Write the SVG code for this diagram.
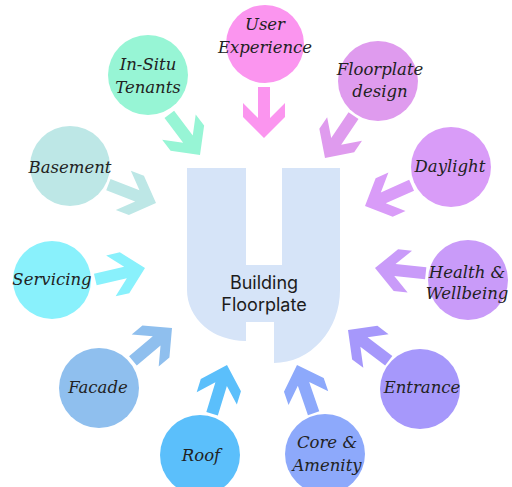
<svg xmlns="http://www.w3.org/2000/svg" xmlns:xlink="http://www.w3.org/1999/xlink" width="512" height="487" viewBox="0 0 512 487">
<style>
.lbl{font-family:"DejaVu Serif","Liberation Serif",serif;font-style:italic;font-size:16.5px;fill:#222;text-anchor:middle}
.ctr{font-family:Inter,"Liberation Sans",sans-serif;font-size:18px;fill:#1c1c1c;text-anchor:middle}
</style>
<defs>
<path id="arr" d="M0,0 L-21,21 L-35,21 L-20,6 L-51,6 L-51,-6 L-20,-6 L-35,-21 L-21,-21 Z"/>
</defs>
<rect width="512" height="487" fill="#fff"/>
<g id="building-floorplate">
<path d="M187,168 L246,168 L246,265 L282,265 L282,168 L340,168 L340,290 A66,73 0 0 1 274,363 L274,322 L246,322 L246,341 A58,51 0 0 1 187,290 Z" fill="#d6e4f8"/>
<text class="ctr" x="264" y="289">Building</text>
<text class="ctr" x="264" y="311">Floorplate</text>
</g>
<g id="connectors">
<use xlink:href="#arr" fill="#fb95ef" transform="translate(264,138) rotate(90)"/>
<use xlink:href="#arr" fill="#97f5d5" transform="translate(200,155) rotate(53)"/>
<use xlink:href="#arr" fill="#df9bee" transform="translate(325,158) rotate(124)"/>
<use xlink:href="#arr" fill="#d99cf8" transform="translate(365,206) rotate(156)"/>
<use xlink:href="#arr" fill="#bde7e6" transform="translate(156,203) rotate(21)"/>
<use xlink:href="#arr" fill="#89f1fc" transform="translate(145,268) rotate(-13)"/>
<use xlink:href="#arr" fill="#8fbfee" transform="translate(172,328) rotate(-40)"/>
<use xlink:href="#arr" fill="#5bbffb" transform="translate(227,365) rotate(-73)"/>
<use xlink:href="#arr" fill="#c99bf9" transform="translate(375,268) rotate(186)"/>
<use xlink:href="#arr" fill="#a698fb" transform="translate(348,330) rotate(217)"/>
<use xlink:href="#arr" fill="#8da9fb" transform="translate(297,365) rotate(251)"/>
</g>
<g id="user-experience">
<circle cx="265" cy="44" r="39" fill="#fb95ef"/>
<text class="lbl" x="265" y="30">User</text>
<text class="lbl" x="265" y="53">Experience</text>
</g>
<g id="in-situ-tenants">
<circle cx="148" cy="75" r="40" fill="#97f5d5"/>
<text class="lbl" x="148" y="70">In-Situ</text>
<text class="lbl" x="148" y="93">Tenants</text>
</g>
<g id="floorplate-design">
<circle cx="378" cy="81" r="40" fill="#df9bee"/>
<text class="lbl" x="380" y="75">Floorplate</text>
<text class="lbl" x="380" y="97">design</text>
</g>
<g id="daylight">
<circle cx="451" cy="167" r="40" fill="#d99cf8"/>
<text class="lbl" x="450" y="172">Daylight</text>
</g>
<g id="basement">
<circle cx="70" cy="166" r="40" fill="#bde7e6"/>
<text class="lbl" x="70" y="173">Basement</text>
</g>
<g id="servicing">
<circle cx="52" cy="280" r="39" fill="#89f1fc"/>
<text class="lbl" x="52" y="285">Servicing</text>
</g>
<g id="facade">
<circle cx="99" cy="388" r="40" fill="#8fbfee"/>
<text class="lbl" x="98" y="393">Facade</text>
</g>
<g id="roof">
<circle cx="200" cy="455" r="40" fill="#5bbffb"/>
<text class="lbl" x="201" y="461">Roof</text>
</g>
<g id="health-wellbeing">
<circle cx="468" cy="280" r="40" fill="#c99bf9"/>
<text class="lbl" x="467" y="278">Health &amp;</text>
<text class="lbl" x="467" y="299">Wellbeing</text>
</g>
<g id="entrance">
<circle cx="420" cy="389" r="40" fill="#a698fb"/>
<text class="lbl" x="422" y="393">Entrance</text>
</g>
<g id="core-amenity">
<circle cx="325" cy="454" r="40" fill="#8da9fb"/>
<text class="lbl" x="327" y="448">Core &amp;</text>
<text class="lbl" x="327" y="471">Amenity</text>
</g>
</svg>
